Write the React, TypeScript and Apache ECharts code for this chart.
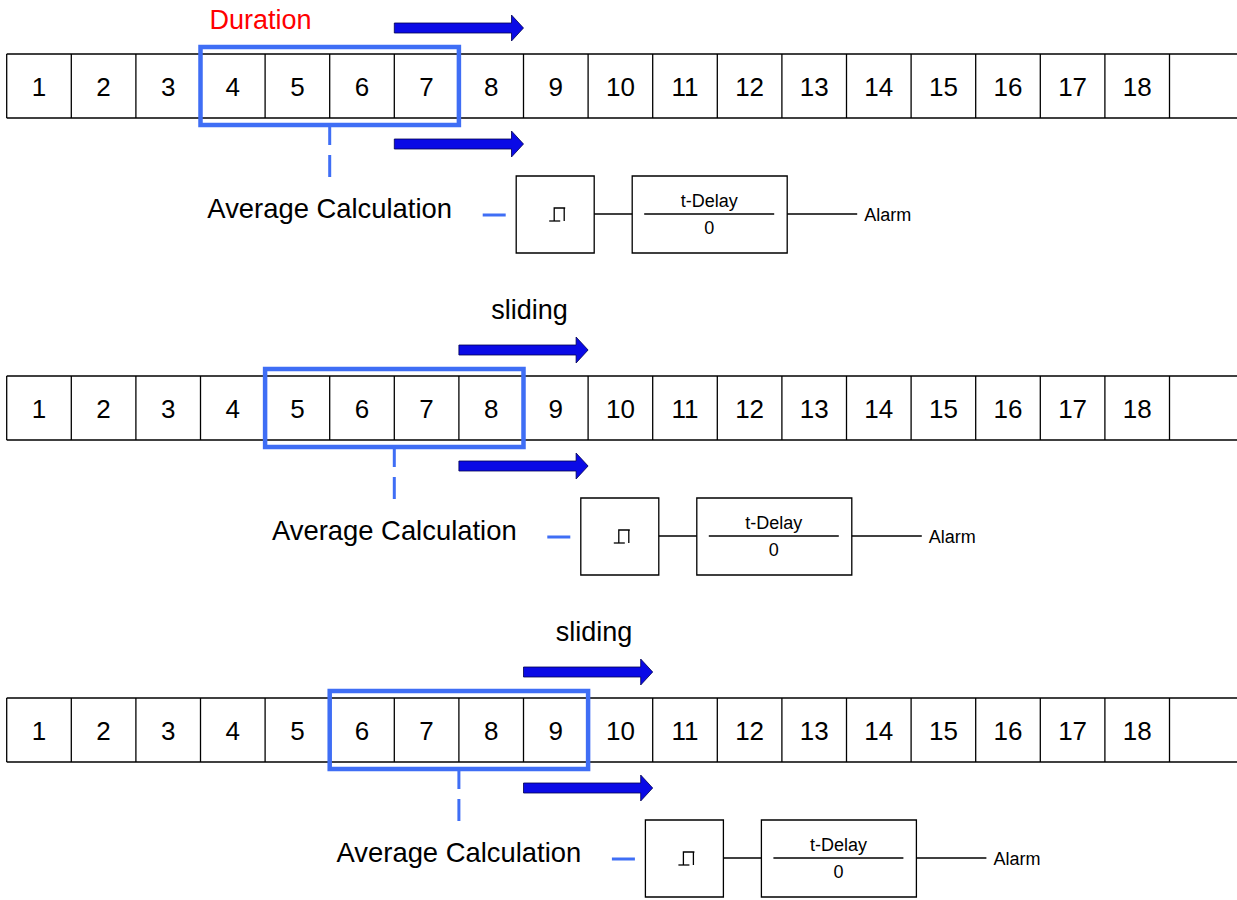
import React, { useEffect, useRef } from 'react';
import * as echarts from 'echarts';

// ---- data ----
const cellLabels = ['1', '2', '3', '4', '5', '6', '7', '8', '9', '10', '11', '12', '13', '14', '15', '16', '17', '18'];
const windowStart = [4, 5, 6]; // first cell of the averaging window in each row
const windowLength = 4;
const headerLabels = ['Duration', 'sliding', 'sliding'];
const avgLabel = 'Average Calculation';
const delayLabel = 't-Delay';
const delayValue = '0';
const outputLabel = 'Alarm';

const FONT = 'Liberation Sans, Arial, Helvetica, sans-serif';
const BLUE = '#3f6ef5';
const ARROW = '#0a0ae6';

export default function App() {
  const ref = useRef<HTMLDivElement>(null);
  useEffect(() => {
    if (!ref.current) return;
    const chart = echarts.init(ref.current, undefined, { renderer: 'svg' });
    const rowPitch = 322;
    const firstTop = 54;
    const cellH = 64;

    const renderItem = (params: any, api: any) => {
      const r = api.value(0);
      const s = api.value(1);
      const top = firstTop + rowPitch * r;
      const bottom = top + cellH;
      const bx = (k: number) => api.coord([k, 0])[0];
      const children: any[] = [];
      const line = (x1: number, y1: number, x2: number, y2: number, stroke = '#000', lw = 1.3, dash?: number[]) => ({
        type: 'line',
        shape: { x1, y1, x2, y2 },
        style: { stroke, lineWidth: lw, lineDash: dash },
        silent: true,
      });
      const text = (t: string, x: number, y: number, size: number, fill = '#000', align = 'center') => ({
        type: 'text',
        x,
        y,
        style: { text: t, fill, font: `${size}px ${FONT}`, align, verticalAlign: 'middle' },
        silent: true,
      });

      // cell strip
      children.push(line(bx(0), top, 1237, top));
      children.push(line(bx(0), bottom, 1237, bottom));
      for (let k = 0; k <= cellLabels.length; k++) {
        children.push(line(bx(k), top, bx(k), bottom));
      }
      cellLabels.forEach((lab, k) => {
        children.push(text(lab, (bx(k) + bx(k + 1)) / 2, (top + bottom) / 2 + 1, 26));
      });

      // averaging window
      const wl = bx(s - 1);
      const wr = bx(s - 1 + windowLength);
      children.push({
        type: 'rect',
        shape: { x: wl, y: top - 7, width: wr - wl, height: cellH + 14 },
        style: { fill: 'none', stroke: BLUE, lineWidth: 4.5 },
        silent: true,
      });

      // arrows
      const ax1 = bx(s + 2);
      const ax2 = bx(s + 4);
      const arrow = (cy: number) => ({
        type: 'polygon',
        shape: {
          points: [
            [ax1, cy - 5],
            [ax2 - 12, cy - 5],
            [ax2 - 12, cy - 13],
            [ax2, cy],
            [ax2 - 12, cy + 13],
            [ax2 - 12, cy + 5],
            [ax1, cy + 5],
          ],
        },
        style: { fill: ARROW, stroke: '#000050', lineWidth: 0.8 },
        silent: true,
      });
      children.push(arrow(top - 26));
      children.push(arrow(bottom + 26));

      // header label
      if (r === 0) {
        children.push(text(headerLabels[r], wl + 9, top - 34, 27, '#ff0000', 'left'));
      } else {
        children.push(text(headerLabels[r], (ax1 + ax2) / 2 + 6, top - 66, 27));
      }

      // dashed connector + label
      const bc = (wl + wr) / 2;
      children.push(line(bc, bottom + 9, bc, bottom + 27, BLUE, 3));
      children.push(line(bc, bottom + 37, bc, bottom + 59, BLUE, 3));
      children.push(text(avgLabel, bc, top + 154, 27.4));
      const cy = top + 160;
      children.push(line(bc + 153, cy + 1, bc + 176, cy + 1, BLUE, 3));

      // hysteresis block
      const hx = bc + 186.5;
      children.push({
        type: 'rect',
        shape: { x: hx, y: top + 122, width: 78, height: 77 },
        style: { fill: 'none', stroke: '#000', lineWidth: 1.3 },
        silent: true,
      });
      const sb = top + 167;
      const st = top + 154;
      children.push({
        type: 'polyline',
        shape: { points: [[hx + 33, sb], [hx + 44, sb]] },
        style: { stroke: '#000', lineWidth: 1.3, fill: 'none' },
        silent: true,
      });
      children.push({
        type: 'polyline',
        shape: { points: [[hx + 38, sb], [hx + 38, st], [hx + 49, st]] },
        style: { stroke: '#000', lineWidth: 1.3, fill: 'none' },
        silent: true,
      });
      children.push(line(hx + 48, st, hx + 48, sb));
      children.push(line(hx + 78, cy, hx + 116, cy));

      // delay block
      const dx = hx + 116;
      children.push({
        type: 'rect',
        shape: { x: dx, y: top + 122, width: 155, height: 77 },
        style: { fill: 'none', stroke: '#000', lineWidth: 1.3 },
        silent: true,
      });
      children.push(line(dx + 12, cy, dx + 142, cy));
      children.push(text(delayLabel, dx + 77, top + 147, 18));
      children.push(text(delayValue, dx + 77, top + 174, 18));
      children.push(line(dx + 155, cy, dx + 225, cy));
      children.push(text(outputLabel, dx + 232, cy + 1, 18, '#000', 'left'));

      return { type: 'group', children };
    };

    chart.setOption({
      animation: false,
      grid: { left: 6.7, right: 2.9, top: 0, bottom: 0 },
      xAxis: { type: 'value', min: 0, max: 19, show: false },
      yAxis: { type: 'value', min: 0, max: 900, inverse: true, show: false },
      series: [
        {
          type: 'custom',
          renderItem,
          clip: false,
          data: windowStart.map((s, i) => [i, s]),
        },
      ],
    });
    return () => chart.dispose();
  }, []);
  return <div ref={ref} style={{ position: 'fixed', left: 0, top: 0, width: 1237, height: 900, background: '#fff' }} />;
}
